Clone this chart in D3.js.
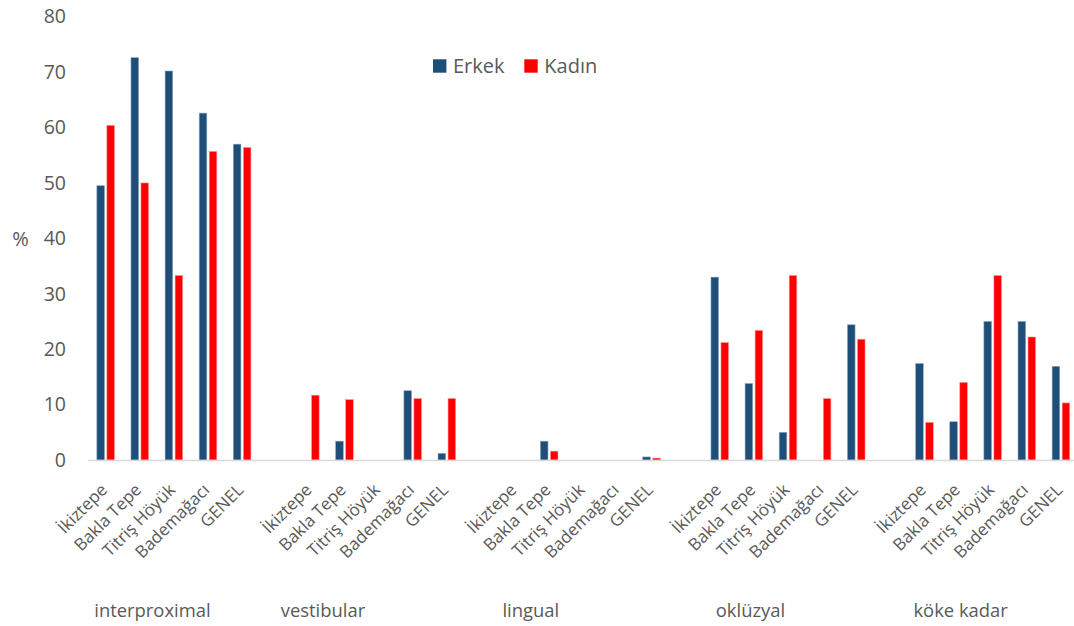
<!DOCTYPE html>
<html><head><meta charset="utf-8">
<script src="https://cdn.jsdelivr.net/npm/d3@7"></script>
<style>
html,body{margin:0;padding:0;background:#fff;}
svg{display:block;font-family:"Open Sans",sans-serif;}
</style></head>
<body>
<svg id="chart" width="1074" height="626"></svg>
<script>
const groups = ["interproximal", "vestibular", "lingual", "oklüzyal", "köke kadar"];
const sites = ["İkiztepe", "Bakla Tepe", "Titriş Höyük", "Bademağacı", "GENEL"];
const seriesNames = ["Erkek", "Kadın"];
const erkek = [
  [49.5, 72.6, 70.2, 62.6, 57.0],
  [0, 3.4, 0, 12.5, 1.2],
  [0, 3.4, 0, 0, 0.55],
  [33.0, 13.8, 5.0, 0, 24.4],
  [17.4, 6.9, 25.0, 25.0, 16.9]
];
const kadin = [
  [60.4, 50.0, 33.3, 55.7, 56.4],
  [11.7, 10.9, 0, 11.1, 11.1],
  [0, 1.6, 0, 0, 0.35],
  [21.2, 23.4, 33.3, 11.1, 21.8],
  [6.8, 14.0, 33.3, 22.2, 10.3]
];
const yTicks = [0, 10, 20, 30, 40, 50, 60, 70, 80];
const yLabel = "%";

const colors = ["#1F4E79", "#FF0000"];
const strokes = ["#8aa5c0", "#ff9a9a"];
const textColor = "#595959";

const svg = d3.select("#chart");
const nSlots = groups.length * (sites.length + 1) - 1;
const x = d3.scaleBand().domain(d3.range(nSlots)).range([88.6, 1078]).padding(0);
const y = d3.scaleLinear().domain([0, 80]).range([460, 16.7]);
const slotOf = (g, s) => g * (sites.length + 1) + s;
const cx = i => x(i) + x.bandwidth() / 2;

// y axis
const yAxis = svg.append("g").attr("transform", "translate(66,0)")
  .call(d3.axisLeft(y).tickValues(yTicks).tickSize(0).tickPadding(0).tickFormat(d3.format("d")));
yAxis.select(".domain").remove();
yAxis.selectAll("text").attr("fill", textColor).style("font-size", "19.5px")
  .style("font-family", "'Open Sans',sans-serif");

svg.append("text").attr("x", 20.5).attr("y", 238.5).attr("dy", "0.35em")
  .attr("text-anchor", "middle").attr("fill", textColor).style("font-size", "20px").text(yLabel);

// bars
const barData = [];
groups.forEach((g, gi) => sites.forEach((s, si) => {
  [erkek, kadin].forEach((arr, k) => {
    const v = arr[gi][si];
    if (v > 0) barData.push({gi, si, k, v});
  });
}));
const barW = 7.6;
svg.append("g").selectAll("rect").data(barData).join("rect")
  .attr("x", d => cx(slotOf(d.gi, d.si)) + (d.k === 0 ? -8.8 : 1.2))
  .attr("width", barW)
  .attr("y", d => y(d.v))
  .attr("height", d => y(0) - y(d.v))
  .attr("fill", d => colors[d.k])
  .attr("stroke", d => strokes[d.k])
  .attr("stroke-width", 0.6);

// baseline
svg.append("line").attr("x1", 88).attr("x2", 1074).attr("y1", 460.5).attr("y2", 460.5)
  .attr("stroke", "#d9d9d9").attr("stroke-width", 1.5);

// site tick labels
const tl = svg.append("g");
groups.forEach((g, gi) => sites.forEach((s, si) => {
  const px = cx(slotOf(gi, si)) + 2.5;
  tl.append("text").attr("transform", `translate(${px},491) rotate(-45)`)
    .attr("text-anchor", "end").attr("fill", textColor).style("font-size", "17px").text(s);
}));

// group labels
const groupOffsets = [1.37, 0.37, 0.46, 0.9, 1.06];
groups.forEach((g, gi) => {
  const sx = x(slotOf(gi, 0)) + x.bandwidth() * (0.5 + groupOffsets[gi]);
  svg.append("text").attr("x", sx).attr("y", 617).attr("text-anchor", "middle")
    .attr("fill", textColor).style("font-size", "18.4px").text(g);
});

// legend
const legendPos = [433, 524.3];
seriesNames.forEach((n, i) => {
  svg.append("rect").attr("x", legendPos[i]).attr("y", 59.3).attr("width", 13.4).attr("height", 13.4)
    .attr("fill", colors[i]);
  svg.append("text").attr("x", legendPos[i] + 20).attr("y", 66).attr("dy", "0.35em")
    .attr("fill", textColor).style("font-size", "20px").text(n);
});
</script>
</body></html>
